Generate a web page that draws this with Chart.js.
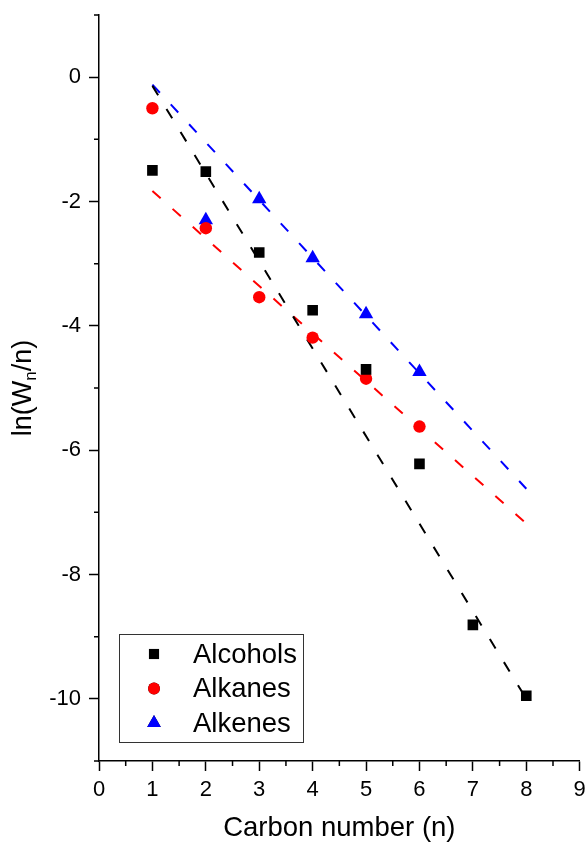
<!DOCTYPE html>
<html><head><meta charset="utf-8">
<script src="https://cdn.jsdelivr.net/npm/chart.js@4.4.0/dist/chart.umd.min.js"></script>
<style>html,body{margin:0;padding:0;background:#fff}#wrap{width:588px;height:845px;position:relative}canvas{display:block}</style>
</head><body><div id="wrap"><canvas id="c" width="588" height="845"></canvas></div>
<script>
// ---- data ----
const alcoholsN = [1, 2, 3, 4, 5, 6, 7, 8];
const alcohols = [-1.50, -1.52, -2.82, -3.75, -4.70, -6.22, -8.81, -9.95];
const alkanesN = [1, 2, 3, 4, 5, 6];
const alkanes = [-0.50, -2.43, -3.54, -4.19, -4.85, -5.62];
const alkenesN = [2, 3, 4, 5, 6];
const alkenes = [-2.30, -1.96, -2.91, -3.81, -4.74];
const fitN = [1, 8];
const alcoholsFit = [-0.14, -10.0];
const alkanesFit = [-1.83, -7.18];
const alkenesFit = [-0.12, -6.62];
const seriesLabels = ['Alcohols', 'Alkanes', 'Alkenes'];
const xTickValues = [0, 1, 2, 3, 4, 5, 6, 7, 8, 9];
const xMinorValues = [0.5, 1.5, 2.5, 3.5, 4.5, 5.5, 6.5, 7.5, 8.5];
const yTickValues = [0, -2, -4, -6, -8, -10];
const yMinorValues = [1, -1, -3, -5, -7, -9, -11];
const xTitle = 'Carbon number (n)';
const yTitleParts = ['ln(W', 'n', '/n)'];

const FONT = "'Liberation Sans', Arial, sans-serif";
const pts = (xs, ys) => xs.map((x, i) => ({x: x, y: ys[i]}));

const scatterStyle = (label, xs, ys, color, style, r) => ({
  type: 'scatter', label: label, data: pts(xs, ys),
  backgroundColor: color, borderColor: color, borderWidth: 0,
  pointStyle: style, pointRadius: r, pointHoverRadius: r, order: 1
});
const fitStyle = (xs, ys, color) => ({
  type: 'line', label: '', data: pts(xs, ys), borderColor: color,
  borderWidth: 2, borderDash: [11, 16], pointRadius: 0, fill: false, order: 2
});

const minorTicks = {
  id: 'minorTicks',
  afterDraw(chart) {
    const ctx = chart.ctx, xs = chart.scales.x, ys = chart.scales.y;
    ctx.save();
    ctx.strokeStyle = '#000'; ctx.lineWidth = 1.5;
    ctx.beginPath();
    xMinorValues.forEach(v => { const p = xs.getPixelForValue(v); ctx.moveTo(p, xs.top); ctx.lineTo(p, xs.top + 5); });
    yMinorValues.forEach(v => { const p = ys.getPixelForValue(v); ctx.moveTo(ys.right, p); ctx.lineTo(ys.right - 5, p); });
    ctx.stroke();
    // y title with subscript
    const cx = 31, cy = (chart.chartArea.top + chart.chartArea.bottom) / 2;
    ctx.translate(cx, cy); ctx.rotate(-Math.PI / 2);
    ctx.fillStyle = '#000'; ctx.textBaseline = 'alphabetic'; ctx.textAlign = 'left';
    const big = '27px ' + FONT, small = '17px ' + FONT;
    ctx.font = big; const w1 = ctx.measureText(yTitleParts[0]).width; const w3 = ctx.measureText(yTitleParts[2]).width;
    ctx.font = small; const w2 = ctx.measureText(yTitleParts[1]).width;
    let x0 = -(w1 + w2 + w3) / 2;
    ctx.font = big; ctx.fillText(yTitleParts[0], x0, 0); x0 += w1;
    ctx.font = small; ctx.fillText(yTitleParts[1], x0, 5); x0 += w2;
    ctx.font = big; ctx.fillText(yTitleParts[2], x0, 0);
    ctx.restore();
  }
};

const boxLegend = {
  id: 'boxLegend',
  afterDraw(chart) {
    const ctx = chart.ctx, a = chart.chartArea;
    const left = a.left + 20, bottom = a.bottom - 19, w = 184, h = 108, top = bottom - h;
    ctx.save();
    ctx.strokeStyle = '#333'; ctx.lineWidth = 1;
    ctx.strokeRect(left + 0.5, top + 0.5, w, h);
    ctx.font = '27.5px ' + FONT; ctx.fillStyle = '#000'; ctx.textBaseline = 'middle'; ctx.textAlign = 'left';
    const rowH = 34.5;
    for (let i = 0; i < 3; i++) {
      const ds = chart.data.datasets[i];
      const y = top + 20 + i * rowH;
      Chart.helpers.drawPoint(ctx, {pointStyle: ds.pointStyle, radius: ds.pointRadius * 0.95, borderWidth: 0}, left + 35, y);
      ctx.fillStyle = ds.backgroundColor; ctx.fill();
      ctx.fillStyle = '#000';
      ctx.fillText(ds.label, left + 74, y + 1);
    }
    ctx.restore();
  }
};

new Chart(document.getElementById('c'), {
  data: {
    datasets: [
      scatterStyle(seriesLabels[0], alcoholsN, alcohols, '#000000', 'rect', 7.5),
      scatterStyle(seriesLabels[1], alkanesN, alkanes, '#ff0000', 'circle', 6.2),
      scatterStyle(seriesLabels[2], alkenesN, alkenes, '#0000ff', 'triangle', 8.3),
      fitStyle(fitN, alcoholsFit, '#000000'),
      fitStyle(fitN, alkanesFit, '#ff0000'),
      fitStyle(fitN, alkenesFit, '#0000ff')
    ]
  },
  options: {
    responsive: false, animation: false, devicePixelRatio: 1,
    layout: {padding: {top: 15, right: 6, left: 0, bottom: 0}},
    plugins: {legend: {display: false}, tooltip: {enabled: false}},
    scales: {
      x: {
        type: 'linear', min: 0, max: 9,
        afterBuildTicks: s => { s.ticks = xTickValues.map(v => ({value: v})); },
        afterFit: s => { s.height = 84; s.paddingLeft = 0; s.paddingRight = 0; },
        grid: {drawOnChartArea: false, tickLength: 10, tickColor: '#000', tickWidth: 1.5},
        border: {color: '#000', width: 1.5},
        ticks: {color: '#000', font: {family: FONT, size: 22}, padding: 6, maxRotation: 0, autoSkip: false},
        title: {display: true, text: xTitle, color: '#000', font: {family: FONT, size: 27.5}, padding: {top: 0, bottom: 0}}
      },
      y: {
        type: 'linear', min: -11, max: 1,
        afterBuildTicks: s => { s.ticks = yTickValues.map(v => ({value: v})); },
        afterFit: s => { s.width = 99; s.paddingTop = 0; s.paddingBottom = 0; },
        grid: {drawOnChartArea: false, tickLength: 10, tickColor: '#000', tickWidth: 1.5},
        border: {color: '#000', width: 1.5},
        ticks: {color: '#000', font: {family: FONT, size: 22}, padding: 8, autoSkip: false}
      }
    }
  },
  plugins: [minorTicks, boxLegend]
});
</script></body></html>
